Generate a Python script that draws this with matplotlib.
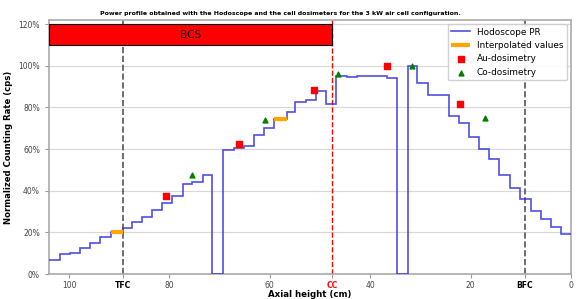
import numpy as np
import matplotlib
matplotlib.use('Agg')
import matplotlib.pyplot as plt
from matplotlib.ticker import PercentFormatter
from matplotlib.patches import Rectangle

## Hodoscope bins (cm, from top to bottom) and normalized rates (%)
bin_edges = [104, 101.9, 99.9, 97.9, 95.8, 93.8, 91.7, 89.2, 87.5, 85.5, 83.5, 81.4,
             79.5, 77.4, 75.6, 73.4, 71.6, 69.3, 67.1, 65.1, 63.1, 61.1, 59.2, 56.6,
             54.9, 52.8, 50.9, 48.9, 46.8, 44.7, 42.7, 40.7, 38.6, 36.6, 34.6, 32.5,
             30.6, 28.4, 24.3, 22.3, 20.3, 18.3, 16.3, 14.3, 12.2, 10.2, 8.0, 6.0,
             4.0, 2.0, 0]
hodo_rate = [6.7, 9.4, 10.2, 12.6, 15.0, 17.6, 20.3, 22.2, 24.8, 27.5, 30.7, 34.2,
             37.4, 43.2, 44.0, 47.7, 0, 59.5, 60.6, 61.6, 66.7, 69.9, 74.6, 77.6,
             82.6, 83.7, 87.7, 81.6, 94.9, 94.4, 95.2, 94.9, 95.2, 94.2, 0, 100,
             91.7, 85.9, 76.0, 72.6, 65.9, 60.0, 55.4, 47.5, 41.4, 35.8, 30.4, 26.2,
             22.4, 19.2]

## Interpolated segments
interp_from = [91.7, 59.2]
interp_to = [89.2, 56.6]
interp_val = [20.3, 74.6]

## Dosimetry
au_x = [80.7, 66.1, 51.3, 36.6, 22.1]
au_y = [37.4, 62.6, 88.3, 99.9, 81.6]
co_x = [75.6, 61.0, 46.4, 31.7, 17.1]
co_y = [47.7, 73.9, 95.9, 99.9, 75.0]

## Reference positions
ref_names = ['TFC', 'CC', 'BFC']
ref_pos = [89.2, 47.6, 9.2]
ref_colors = ['#555555', 'red', '#555555']
num_ticks = [100, 80, 60, 40, 20, 0]

fig = plt.figure(figsize=(5.79, 2.99), dpi=100)
ax = fig.add_axes([0.0846, 0.0836, 0.9016, 0.8494])

ax.grid(axis='y', color='#d8d8d8', lw=0.8, zorder=0)
ax.set_axisbelow(True)

edges = np.array(bin_edges)
ax.stairs(hodo_rate, edges, baseline=None, color='#3030e0', lw=1.2, alpha=0.85,
          label='Hodoscope PR', zorder=3)

for i in range(len(interp_val)):
    ax.plot([interp_from[i], interp_to[i]], [interp_val[i], interp_val[i]],
            color='orange', lw=3, solid_capstyle='butt', zorder=4,
            label='Interpolated values' if i == 0 else None)

ax.scatter(au_x, au_y, marker='s', s=14, c='red', zorder=5, label='Au-dosimetry')
ax.scatter(co_x, co_y, marker='^', s=12, c='green', zorder=5, label='Co-dosimetry')

for name, pos, col in zip(ref_names, ref_pos, ref_colors):
    ax.axvline(pos, color=col, ls='--', lw=1.0 if name == 'CC' else 1.2, zorder=2)

ax.set_xlim(104, 0)
ax.set_ylim(0, 122)

## BCS band from the top of the axis down to the core centre
ax.add_patch(Rectangle((ref_pos[1], 110), 104 - ref_pos[1], 10, facecolor='red',
                       edgecolor='black', lw=0.8, zorder=6))
ax.text((104 + ref_pos[1]) / 2, 115, 'BCS', ha='center', va='center',
        fontsize=7.6, zorder=7)

ticks = num_ticks + ref_pos
labels = [str(t) for t in num_ticks] + ref_names
ax.set_xticks(ticks)
ax.set_xticklabels(labels)
for lbl, txt in zip(ax.get_xticklabels(), labels):
    lbl.set_fontsize(5.5)
    if txt in ref_names:
        lbl.set_fontweight('bold')
        lbl.set_color('red' if txt == 'CC' else 'black')
    else:
        lbl.set_color('#444444')

ax.set_yticks(np.arange(0, 121, 20))
ax.yaxis.set_major_formatter(PercentFormatter(decimals=0))
ax.tick_params(axis='y', labelsize=5.5, labelcolor='#444444', length=3, color='#999999')
ax.tick_params(axis='x', length=3, color='#999999', pad=2)

for s in ax.spines.values():
    s.set_color('#aaaaaa')
    s.set_linewidth(1.2)

fig.text(0.484, 0.955, 'Power profile obtained with the Hodoscope and the cell dosimeters for the 3 kW air cell configuration.',
         ha='center', va='center', fontsize=4.5, fontweight='bold')
ax.set_xlabel('Axial height (cm)', fontsize=6.2, fontweight='bold', labelpad=0)
ax.set_ylabel('Normalized Counting Rate (cps)', fontsize=6.1, fontweight='bold', labelpad=4)

ax.legend(loc='upper right', fontsize=6.4, framealpha=0.9, borderaxespad=0.45,
          handlelength=2.1, labelspacing=0.5, borderpad=0.4)

fig.savefig('out.png', dpi=100)
